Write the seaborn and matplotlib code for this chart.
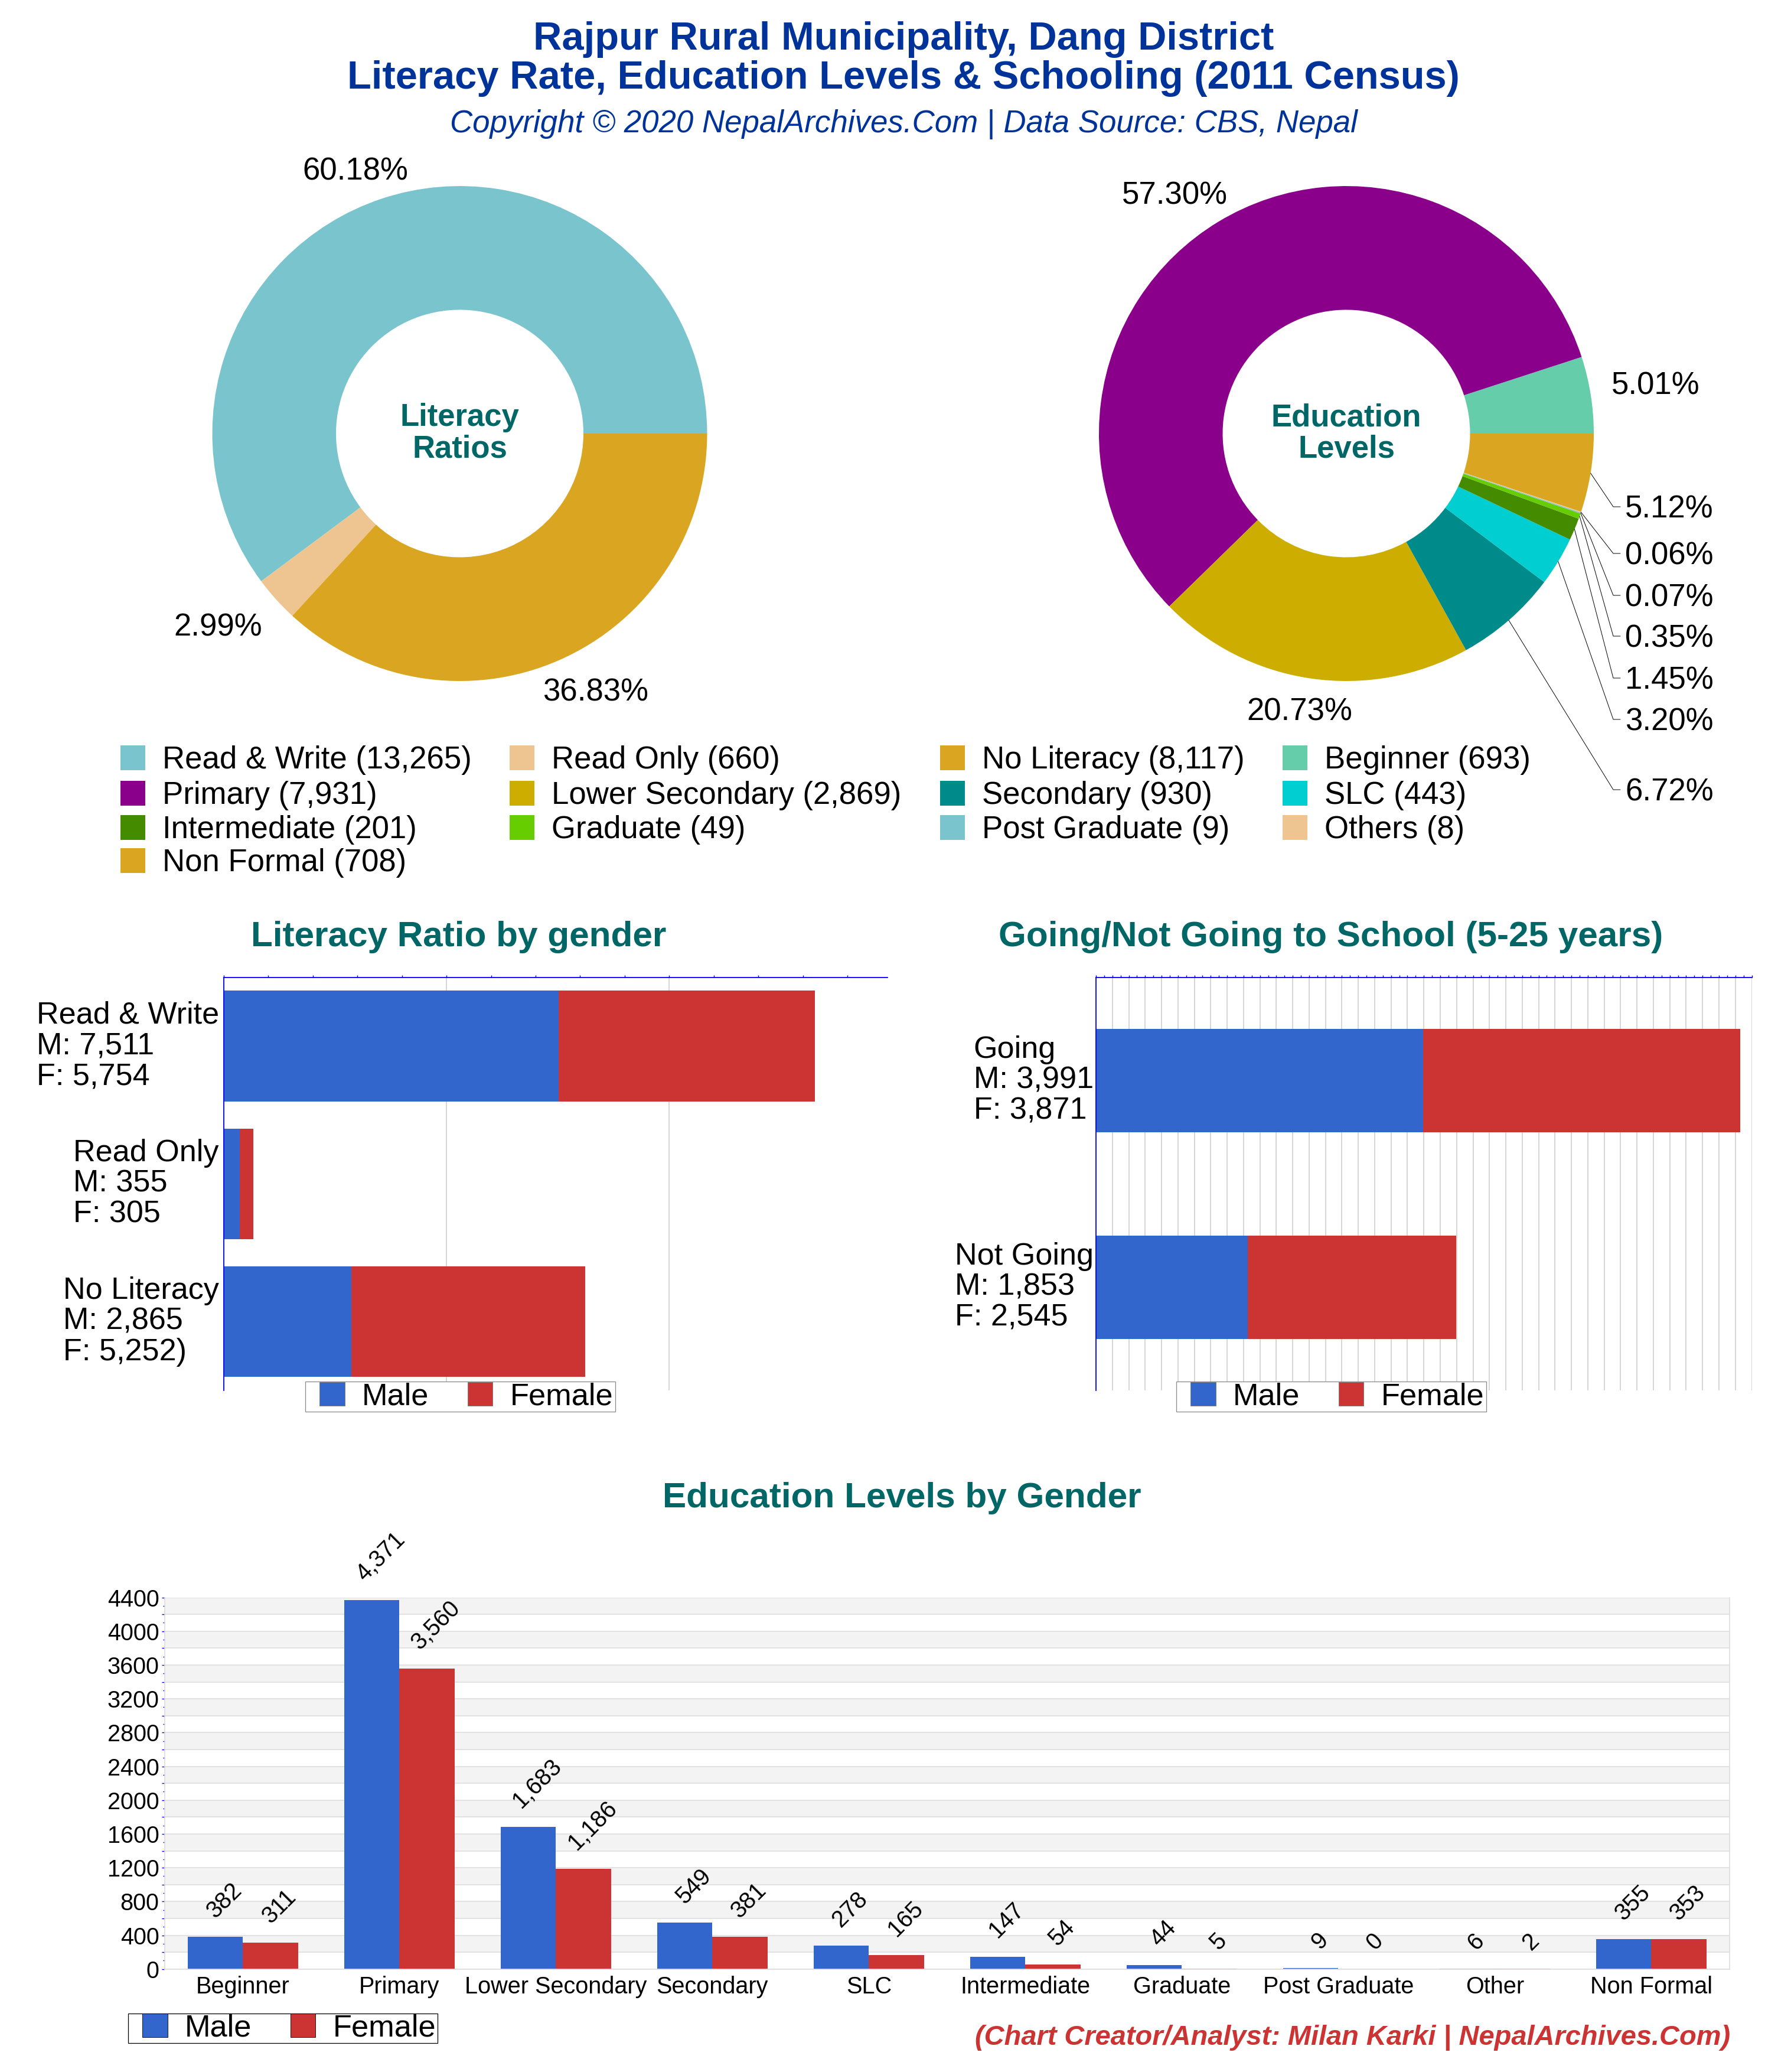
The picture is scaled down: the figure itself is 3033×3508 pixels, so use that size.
import numpy as np
import pandas as pd
import matplotlib
matplotlib.use('Agg')
import matplotlib.pyplot as plt
from matplotlib.lines import Line2D
from matplotlib.patches import Patch, Rectangle
from matplotlib.ticker import MultipleLocator
from matplotlib.transforms import ScaledTranslation
import seaborn as sns

# literacy donut
literacy_names = ['Read & Write', 'Read Only', 'No Literacy']
literacy_counts = [13265, 660, 8117]
literacy_pct = ['60.18%', '2.99%', '36.83%']
literacy_colors = ['#7AC5CD', '#EEC591', '#DAA520']

# education donut
edu_names = ['Beginner', 'Primary', 'Lower Secondary', 'Secondary', 'SLC',
             'Intermediate', 'Graduate', 'Post Graduate', 'Others', 'Non Formal']
edu_counts = [693, 7931, 2869, 930, 443, 201, 49, 9, 8, 708]
edu_pct = ['5.01%', '57.30%', '20.73%', '6.72%', '3.20%', '1.45%', '0.35%', '0.07%', '0.06%', '5.12%']
edu_colors = ['#66CDAA', '#8B008B', '#CDAD00', '#008B8B', '#00CED1',
              '#458B00', '#66CD00', '#7AC5CD', '#EEC591', '#DAA520']

# gender bars
lit_labels = ['Read & Write\nM: 7,511\nF: 5,754', 'Read Only\nM: 355\nF: 305', 'No Literacy\nM: 2,865\nF: 5,252)']
lit_male = [7511, 355, 2865]
lit_female = [5754, 305, 5252]

school_labels = ['Going\nM: 3,991\nF: 3,871', 'Not Going\nM: 1,853\nF: 2,545']
school_male = [3991, 1853]
school_female = [3871, 2545]

level_names = ['Beginner', 'Primary', 'Lower Secondary', 'Secondary', 'SLC',
               'Intermediate', 'Graduate', 'Post Graduate', 'Other', 'Non Formal']
level_male = [382, 4371, 1683, 549, 278, 147, 44, 9, 6, 355]
level_female = [311, 3560, 1186, 381, 165, 54, 5, 0, 2, 353]

W, H = 3033, 3508
BLUE, RED = '#3366CC', '#CC3333'
NAVY, TEAL = '#003399', '#006666'
AXIS_BLUE = '#0000FF'

sns.set_theme(style='white', rc={'text.color': 'black', 'xtick.labelcolor': 'black', 'ytick.labelcolor': 'black'})
plt.rcParams['font.family'] = ['Liberation Sans', 'DejaVu Sans']

fig = plt.figure(figsize=(W / 100, H / 100), dpi=100, facecolor='white')


def fx(x):
    return x / W


def fy(y):
    return 1 - y / H


def px_axes(x0, y0, x1, y1):
    return fig.add_axes([fx(x0), fy(y1), (x1 - x0) / W, (y1 - y0) / H])


def ftext(x, y, s, **kw):
    kw.setdefault('ha', 'center')
    kw.setdefault('va', 'center')
    return fig.text(fx(x), fy(y + 4.5), s, **kw)


def donut(cx, cy, counts, colors, center_label):
    r = 419
    ax = px_axes(cx - r, cy - r, cx + r, cy + r)
    ax.pie(counts, colors=colors, startangle=0, counterclock=True, radius=1,
           wedgeprops=dict(width=0.5, linewidth=0))
    ax.set_xlim(-1, 1)
    ax.set_ylim(-1, 1)
    ax.text(0, 0.0, center_label, ha='center', va='center', color=TEAL, fontsize=38,
            fontweight='bold', linespacing=1.1)
    return r


def mid_angles(counts):
    c = np.cumsum(counts)
    return (c - np.array(counts) / 2) / c[-1] * 2 * np.pi


def stacked(ax, labels, male, female, bar_width, label_pad):
    df = pd.DataFrame({'label': labels, 'male': male, 'total': np.add(male, female)})
    sns.barplot(data=df, y='label', x='total', color=RED, saturation=1, width=bar_width, linewidth=0, ax=ax)
    sns.barplot(data=df, y='label', x='male', color=BLUE, saturation=1, width=bar_width, linewidth=0, ax=ax)
    ax.set_xlabel('')
    ax.set_ylabel('')
    ax.set_axisbelow(True)
    ax.xaxis.tick_top()
    ax.tick_params(axis='x', which='both', direction='out', color=AXIS_BLUE, width=1.0,
                   length=3, labeltop=False, labelbottom=False, top=True, bottom=False)
    ax.tick_params(axis='y', length=0, pad=label_pad, labelsize=37.5)
    # multi line labels sit a little above the bar centre
    lift = ScaledTranslation(0, 7 / 100, fig.dpi_scale_trans)
    for t in ax.get_yticklabels():
        t.set_multialignment('left')
        t.set_linespacing(1.08)
        t.set_transform(t.get_transform() + lift)
    ax.grid(axis='x', which='major', color='#CCCCCC', lw=1.1)
    ax.grid(axis='y', visible=False)
    for s in ['right', 'bottom']:
        ax.spines[s].set_visible(False)
    for s in ['top', 'left']:
        ax.spines[s].set_color(AXIS_BLUE)
        ax.spines[s].set_linewidth(1.3)


def gender_legend(x0, y0, x1, y1, frame_edge, swatch_edge):
    fig.add_artist(Rectangle((fx(x0), fy(y1)), (x1 - x0) / W, (y1 - y0) / H, facecolor='white', edgecolor=frame_edge,
                             lw=0.9, transform=fig.transFigure, zorder=4))
    handles = [Patch(facecolor=BLUE, edgecolor=swatch_edge, lw=0.6, label='Male'),
               Patch(facecolor=RED, edgecolor=swatch_edge, lw=0.6, label='Female')]
    leg = fig.legend(handles=handles, loc='center left', bbox_to_anchor=(fx(x0 + 24), fy((y0 + y1) / 2)),
                     bbox_transform=fig.transFigure, ncol=2, fontsize=37.7, frameon=False, borderpad=0,
                     handlelength=0.82, handleheight=0.8, handletextpad=0.55, columnspacing=1.25,
                     borderaxespad=0)
    leg.set_zorder(5)


# header
ftext(1530, 62, 'Rajpur Rural Municipality, Dang District', color=NAVY, fontsize=48.2, fontweight='bold')
ftext(1530, 129, 'Literacy Rate, Education Levels & Schooling (2011 Census)', color=NAVY, fontsize=48.2,
      fontweight='bold')
ftext(1530, 206, 'Copyright © 2020 NepalArchives.Com | Data Source: CBS, Nepal', color=NAVY, fontsize=38.05,
      style='italic')

# donuts
donut(778.5, 734, literacy_counts, literacy_colors, 'Literacy\nRatios')
ftext(602, 286, literacy_pct[0], fontsize=38)
ftext(369, 1058, literacy_pct[1], fontsize=38)
ftext(1009, 1168, literacy_pct[2], fontsize=38)

r = donut(2280, 734, edu_counts, edu_colors, 'Education\nLevels')
ftext(1989, 327, edu_pct[1], fontsize=38)
ftext(2804, 649, edu_pct[0], fontsize=38)
ftext(2201, 1201, edu_pct[2], fontsize=38)

# leader lines, slices listed from the last one back to Secondary
angles = mid_angles(edu_counts)
leader_rows = [858, 937, 1008, 1077, 1148, 1218, 1337]
for i, row in zip([9, 8, 7, 6, 5, 4, 3], leader_rows):
    x0 = 2280 + r * np.cos(angles[i])
    y0 = 734 - r * np.sin(angles[i])
    fig.add_artist(Line2D([fx(x0), fx(2732), fx(2744)], [fy(y0), fy(row), fy(row)], color='black', lw=0.7,
                          transform=fig.transFigure))
    ftext(2752, row, edu_pct[i], ha='left', fontsize=38)

# legend under the donuts, filled row by row
legend_names = literacy_names + edu_names
legend_counts = literacy_counts + edu_counts
legend_colors = literacy_colors + edu_colors
col_x = [204, 863, 1592, 2172]
row_y = [1282, 1342, 1400, 1456]
for i, (name, n, c) in enumerate(zip(legend_names, legend_counts, legend_colors)):
    col, row = i % 4, i // 4
    fig.add_artist(Rectangle((fx(col_x[col]), fy(row_y[row] + 22)), 42 / W, 42 / H, facecolor=c, edgecolor='none',
                             transform=fig.transFigure))
    ftext(col_x[col] + 71, row_y[row], f'{name} ({n:,})', ha='left', fontsize=38)

# literacy by gender
ax1 = px_axes(379, 1654.5, 1503, 2354)
stacked(ax1, lit_labels, lit_male, lit_female, 0.804, 6)
ax1.set_xlim(0, 14900)
ax1.xaxis.set_major_locator(MultipleLocator(5000))
ax1.xaxis.set_minor_locator(MultipleLocator(1000))
gender_legend(517, 2339, 1042, 2390, '#888888', '#777777')
ftext(777, 1582, 'Literacy Ratio by gender', color=TEAL, fontsize=43.4, fontweight='bold')

# school attendance by gender
ax2 = px_axes(1856, 1654.5, 2966.5, 2354)
stacked(ax2, school_labels, school_male, school_female, 0.5, 3)
ax2.set_xlim(0, 8000)
ax2.xaxis.set_major_locator(MultipleLocator(200))
ax2.xaxis.set_minor_locator(MultipleLocator(100))
gender_legend(1992, 2339, 2517, 2390, '#888888', '#777777')
ftext(2254, 1582, 'Going/Not Going to School (5-25 years)', color=TEAL, fontsize=43.4, fontweight='bold')

# education levels by gender
ax3 = px_axes(278.7, 2704.5, 2929, 3333.7)
level_df = pd.DataFrame({'level': level_names * 2,
                         'count': level_male + level_female,
                         'gender': ['Male'] * 10 + ['Female'] * 10})
sns.barplot(data=level_df, x='level', y='count', hue='gender', palette={'Male': BLUE, 'Female': RED},
            saturation=1, width=0.705, gap=0, dodge=True, legend=False, linewidth=0, ax=ax3)
ax3.set_xlabel('')
ax3.set_ylabel('')
ax3.set_xlim(-0.5, 9.5)
ax3.set_ylim(0, 4400)
ax3.set_axisbelow(True)
for y in np.arange(200, 4400, 400):
    ax3.axhspan(y, y + 200, facecolor='#F3F3F3', edgecolor='none', zorder=0)
ax3.set_yticks(np.arange(0, 4401, 200))
ax3.set_yticklabels([f'{v}' if v % 400 == 0 else '' for v in np.arange(0, 4401, 200)])
ax3.yaxis.set_minor_locator(MultipleLocator(100))
ax3.yaxis.grid(True, which='major', color='#DEDEDE', lw=1.2, zorder=0.5)
ax3.xaxis.grid(False)
ax3.tick_params(axis='y', which='major', direction='out', color=AXIS_BLUE, width=1.0, length=3.6, left=True,
                labelsize=28.5, pad=3)
ax3.tick_params(axis='y', which='minor', direction='out', color=AXIS_BLUE, width=1.0, length=2.2, left=True)
ax3.tick_params(axis='x', length=0, labelsize=28.5, pad=8)
ax3.spines['top'].set_visible(False)
for s in ['right', 'left', 'bottom']:
    ax3.spines[s].set_color('#DEDEDE')
    ax3.spines[s].set_linewidth(1.2)
for i in range(10):
    for j, vals in enumerate([level_male, level_female]):
        bar_x = i + (j - 0.5) * 0.705 / 2
        txt = f'{vals[i]:,}'
        # labels sit higher the longer they are, offsets are in points
        lift = (38 + 7.8 * (sum(ch.isdigit() for ch in txt) + 0.5 * txt.count(','))) * 0.72
        ax3.annotate(txt, xy=(bar_x, vals[i]), xytext=(11, lift), textcoords='offset points',
                     rotation=45, rotation_mode='anchor', ha='center', va='center', fontsize=28.5,
                     annotation_clip=False)
gender_legend(217, 3409, 741, 3459, 'black', 'black')
ftext(1527, 2532, 'Education Levels by Gender', color=TEAL, fontsize=43.4, fontweight='bold')

ftext(2930, 3445, '(Chart Creator/Analyst: Milan Karki | NepalArchives.Com)', ha='right', color=RED, fontsize=33.8,
      fontweight='bold', style='italic')

plt.savefig('out.png', dpi=100)
